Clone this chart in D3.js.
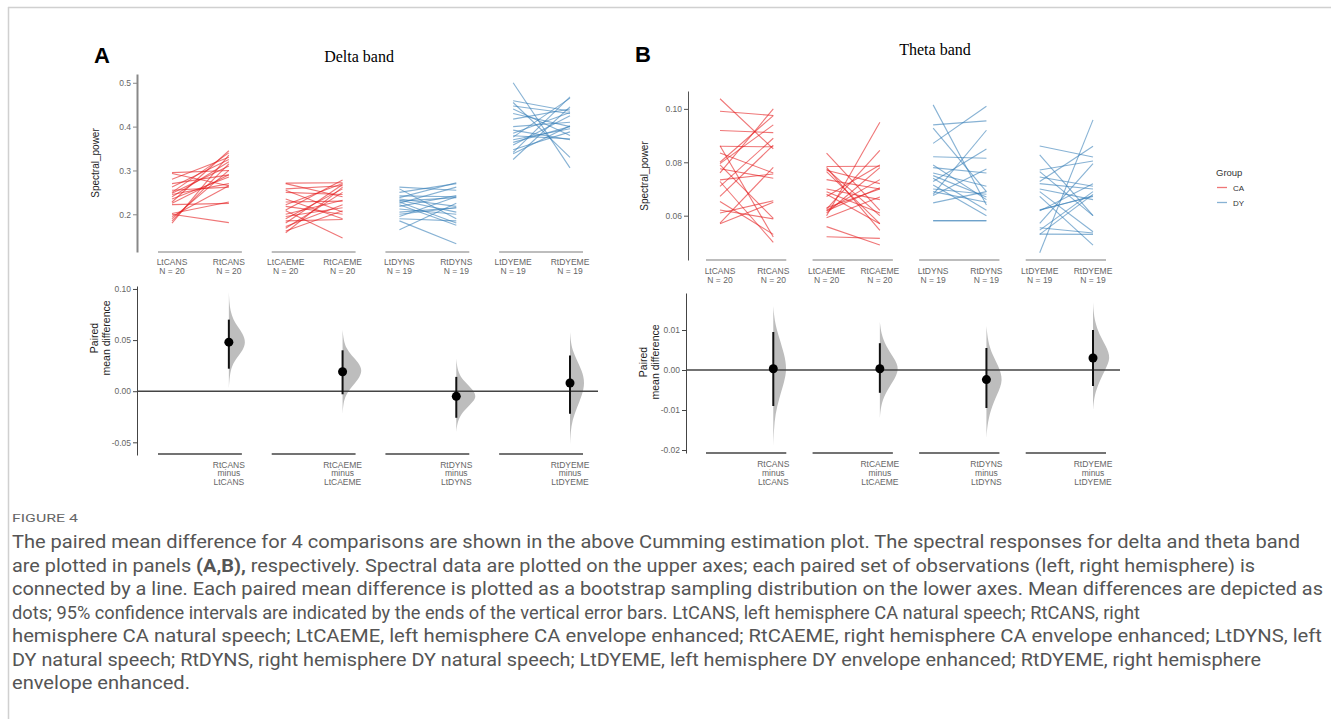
<!DOCTYPE html>
<html>
<head>
<meta charset="utf-8">
<script src="https://cdn.jsdelivr.net/npm/d3@7"></script>
<style>
  body { margin: 0; background: #fff; }
  svg { display: block; }
</style>
</head>
<body>
<svg id="fig" width="1331" height="719"></svg>
<script>
// categories and groups (same in both bands)
const categories = ['LtCANS', 'RtCANS', 'LtCAEME', 'RtCAEME', 'LtDYNS', 'RtDYNS', 'LtDYEME', 'RtDYEME'];
const pairGroups = ['CA', 'CA', 'DY', 'DY'];
const sampleSizes = [20, 20, 19, 19];

// delta band, spectral power per subject (left, right hemisphere)
const deltaLtCANS = [0.295, 0.293, 0.280, 0.270, 0.262, 0.255, 0.250, 0.248, 0.245, 0.240, 0.235, 0.228, 0.225, 0.222, 0.202, 0.200, 0.195, 0.190, 0.185, 0.180];
const deltaRtCANS = [0.300, 0.265, 0.330, 0.290, 0.325, 0.262, 0.340, 0.310, 0.270, 0.320, 0.285, 0.345, 0.290, 0.225, 0.228, 0.181, 0.265, 0.300, 0.315, 0.335];
const deltaLtCAEME = [0.271, 0.270, 0.258, 0.255, 0.250, 0.235, 0.228, 0.222, 0.218, 0.210, 0.208, 0.200, 0.195, 0.190, 0.185, 0.180, 0.172, 0.168, 0.162, 0.158];
const deltaRtCAEME = [0.272, 0.240, 0.265, 0.205, 0.245, 0.190, 0.230, 0.270, 0.200, 0.278, 0.146, 0.232, 0.215, 0.258, 0.188, 0.268, 0.222, 0.250, 0.208, 0.262];
const deltaLtDYNS = [0.262, 0.258, 0.250, 0.242, 0.238, 0.235, 0.232, 0.230, 0.228, 0.225, 0.222, 0.218, 0.212, 0.205, 0.200, 0.195, 0.190, 0.185, 0.165];
const deltaRtDYNS = [0.255, 0.190, 0.270, 0.240, 0.272, 0.218, 0.205, 0.238, 0.180, 0.262, 0.175, 0.243, 0.200, 0.215, 0.215, 0.240, 0.185, 0.133, 0.225];
const deltaLtDYEME = [0.500, 0.459, 0.455, 0.447, 0.440, 0.430, 0.417, 0.400, 0.392, 0.385, 0.379, 0.376, 0.370, 0.364, 0.358, 0.347, 0.341, 0.338, 0.325];
const deltaRtDYEME = [0.306, 0.435, 0.330, 0.430, 0.380, 0.400, 0.440, 0.410, 0.370, 0.432, 0.372, 0.465, 0.395, 0.400, 0.425, 0.388, 0.468, 0.402, 0.445];

// theta band
const thetaLtCANS = [0.1038, 0.0991, 0.0919, 0.0862, 0.0860, 0.0835, 0.0800, 0.0795, 0.0790, 0.0776, 0.0760, 0.0734, 0.0728, 0.0710, 0.0672, 0.0653, 0.0621, 0.0610, 0.0572, 0.0570];
const thetaRtCANS = [0.0850, 0.0975, 0.0911, 0.0520, 0.0858, 0.0760, 0.0975, 0.0940, 0.0590, 0.0740, 0.1000, 0.0756, 0.0500, 0.0890, 0.0864, 0.0530, 0.0588, 0.0656, 0.0781, 0.0650];
const thetaLtCAEME = [0.0834, 0.0784, 0.0781, 0.0775, 0.0770, 0.0765, 0.0735, 0.0700, 0.0690, 0.0680, 0.0672, 0.0630, 0.0625, 0.0620, 0.0618, 0.0610, 0.0600, 0.0592, 0.0559, 0.0521];
const thetaRtCAEME = [0.0620, 0.0785, 0.0545, 0.0600, 0.0720, 0.0570, 0.0700, 0.0660, 0.0610, 0.0570, 0.0790, 0.0700, 0.0845, 0.0735, 0.0705, 0.0780, 0.0950, 0.0670, 0.0490, 0.0515];
const thetaLtDYNS = [0.1015, 0.0940, 0.0928, 0.0871, 0.0821, 0.0790, 0.0780, 0.0760, 0.0750, 0.0740, 0.0728, 0.0715, 0.0700, 0.0680, 0.0676, 0.0648, 0.0582, 0.0580, 0.0690];
const thetaRtDYNS = [0.0640, 0.0955, 0.0690, 0.1010, 0.0815, 0.0660, 0.0760, 0.0710, 0.0670, 0.0620, 0.0850, 0.0600, 0.0680, 0.0920, 0.0775, 0.0690, 0.0582, 0.0580, 0.0650];
const thetaLtDYEME = [0.0861, 0.0828, 0.0771, 0.0765, 0.0745, 0.0728, 0.0720, 0.0690, 0.0672, 0.0622, 0.0620, 0.0618, 0.0571, 0.0555, 0.0546, 0.0531, 0.0530, 0.0461, 0.0700];
const thetaRtDYEME = [0.0820, 0.0600, 0.0805, 0.0600, 0.0710, 0.0860, 0.0700, 0.0540, 0.0490, 0.0672, 0.0675, 0.0720, 0.0795, 0.0535, 0.0690, 0.0530, 0.0680, 0.0959, 0.0660];

// paired mean differences with 95% CI
const deltaDiff = [0.048, 0.019, -0.005, 0.008];
const deltaCiLow = [0.022, -0.003, -0.026, -0.022];
const deltaCiHigh = [0.070, 0.040, 0.014, 0.035];
const thetaDiff = [0.0003, 0.0003, -0.0024, 0.003];
const thetaCiLow = [-0.009, -0.0057, -0.0095, -0.004];
const thetaCiHigh = [0.0095, 0.0067, 0.0055, 0.010];

// bootstrap distributions: [difference, relative density]
const deltaBoot = [
  [[0.003, 0], [0.015, 0.04], [0.025, 0.15], [0.033, 0.4], [0.040, 0.7], [0.048, 0.85], [0.056, 0.7], [0.063, 0.45], [0.070, 0.22], [0.078, 0.08], [0.088, 0.02], [0.097, 0]],
  [[-0.022, 0], [-0.012, 0.04], [-0.004, 0.15], [0.004, 0.45], [0.012, 0.8], [0.020, 1], [0.028, 0.8], [0.035, 0.45], [0.042, 0.18], [0.050, 0.05], [0.060, 0]],
  [[-0.040, 0], [-0.032, 0.04], [-0.024, 0.18], [-0.017, 0.5], [-0.010, 0.85], [-0.005, 1], [0.001, 0.85], [0.008, 0.5], [0.014, 0.2], [0.022, 0.05], [0.032, 0]],
  [[-0.052, 0], [-0.040, 0.03], [-0.028, 0.12], [-0.016, 0.35], [-0.004, 0.6], [0.008, 0.75], [0.020, 0.6], [0.030, 0.35], [0.040, 0.12], [0.050, 0.03], [0.058, 0]]
];
const thetaBoot = [
  [[-0.019, 0], [-0.015, 0.03], [-0.011, 0.1], [-0.007, 0.3], [-0.003, 0.55], [0.0003, 0.68], [0.004, 0.55], [0.008, 0.3], [0.011, 0.12], [0.014, 0.03], [0.016, 0]],
  [[-0.012, 0], [-0.009, 0.05], [-0.006, 0.25], [-0.003, 0.65], [0.0003, 1], [0.003, 0.7], [0.006, 0.3], [0.009, 0.07], [0.012, 0]],
  [[-0.017, 0], [-0.014, 0.04], [-0.010, 0.2], [-0.006, 0.55], [-0.0025, 0.85], [0.001, 0.6], [0.004, 0.28], [0.007, 0.08], [0.011, 0]],
  [[-0.010, 0], [-0.007, 0.05], [-0.004, 0.22], [0, 0.6], [0.003, 0.9], [0.006, 0.65], [0.009, 0.3], [0.012, 0.1], [0.015, 0.02], [0.017, 0]]
];

const deltaTopTicks = [0.2, 0.3, 0.4, 0.5];
const deltaBotTicks = [-0.05, 0, 0.05, 0.10];
const thetaTopTicks = [0.06, 0.08, 0.10];
const thetaBotTicks = [-0.02, -0.01, 0, 0.01];

const captionLines = [
  [['The paired mean difference for 4 comparisons are shown in the above Cumming estimation plot. The spectral responses for delta and theta band', false]],
  [['are plotted in panels ', false], ['(A,B),', true], [' respectively. Spectral data are plotted on the upper axes; each paired set of observations (left, right hemisphere) is', false]],
  [['connected by a line. Each paired mean difference is plotted as a bootstrap sampling distribution on the lower axes. Mean differences are depicted as', false]],
  [['dots; 95% confidence intervals are indicated by the ends of the vertical error bars. LtCANS, left hemisphere CA natural speech; RtCANS, right', false]],
  [['hemisphere CA natural speech; LtCAEME, left hemisphere CA envelope enhanced; RtCAEME, right hemisphere CA envelope enhanced; LtDYNS, left', false]],
  [['DY natural speech; RtDYNS, right hemisphere DY natural speech; LtDYEME, left hemisphere DY envelope enhanced; RtDYEME, right hemisphere', false]],
  [['envelope enhanced.', false]]
];

const colors = { CA: '#e41a1c', DY: '#377eb8' };
const sans = 'Arial, "Liberation Sans", Helvetica, sans-serif';

const svg = d3.select('#fig');

// frame of the figure box
svg.append('line').attr('x1', 8).attr('x2', 1331).attr('y1', 7.5).attr('y2', 7.5).attr('stroke', '#d0d0d0').attr('stroke-width', 1.5);
svg.append('line').attr('x1', 8.5).attr('x2', 8.5).attr('y1', 7).attr('y2', 719).attr('stroke', '#d0d0d0').attr('stroke-width', 1.5);

function styleAxis(g, color, width) {
  g.select('.domain').attr('stroke', color).attr('stroke-width', width);
  g.selectAll('.tick line').attr('stroke', color);
  g.selectAll('.tick text').attr('fill', '#666').attr('font-size', 8.5).attr('font-family', sans);
}

function drawPanel(p) {
  const x = d3.scalePoint().domain(categories).range(p.xRange);
  const yTop = d3.scaleLinear().domain(p.topDomain).range(p.topRange);
  const yBot = d3.scaleLinear().domain(p.botDomain).range(p.botRange);
  const w = d3.scaleLinear().domain([0, 1]).range([0, 20]);

  svg.append('text')
    .attr('x', p.letterX).attr('y', p.letterY)
    .attr('font-family', sans).attr('font-weight', 'bold').attr('font-size', 22)
    .text(p.letter);
  svg.append('text')
    .attr('x', p.titleX).attr('y', p.titleY)
    .attr('text-anchor', 'middle')
    .attr('font-family', '"Liberation Serif", "Times New Roman", serif').attr('font-size', 16)
    .text(p.title);

  // upper axes: slopegraph
  const gTop = svg.append('g')
    .attr('transform', `translate(${p.axisX},0)`)
    .call(d3.axisLeft(yTop).tickValues(p.topTicks).tickSize(4).tickSizeOuter(0).tickPadding(2).tickFormat(d => d.toFixed(p.topDigits)));
  styleAxis(gTop, p.topAxisColor, p.topAxisWidth);

  svg.append('text')
    .attr('transform', `translate(${p.topTitleX},${p.topTitleY}) rotate(-90)`)
    .attr('text-anchor', 'middle').attr('font-family', sans).attr('font-size', 10).attr('fill', '#222')
    .text('Spectral_power');

  p.left.forEach((lt, i) => {
    const c0 = categories[2 * i], c1 = categories[2 * i + 1];
    svg.append('line')
      .attr('x1', x(c0) - 14).attr('x2', x(c1) + 13)
      .attr('y1', p.topRange[0]).attr('y2', p.topRange[0])
      .attr('stroke', '#bdbdbd').attr('stroke-width', 2);

    svg.append('g')
      .selectAll('line')
      .data(d3.zip(lt, p.right[i]))
      .join('line')
      .attr('x1', x(c0)).attr('x2', x(c1))
      .attr('y1', d => yTop(d[0])).attr('y2', d => yTop(d[1]))
      .attr('stroke', colors[pairGroups[i]])
      .attr('stroke-opacity', 0.6)
      .attr('stroke-width', 1.1);

    [c0, c1].forEach(c => {
      const t = svg.append('text')
        .attr('text-anchor', 'middle').attr('font-family', sans).attr('font-size', 8.5).attr('fill', '#666');
      t.append('tspan').attr('x', x(c)).attr('y', p.catLabelY).text(c);
      t.append('tspan').attr('x', x(c)).attr('y', p.catLabelY + p.labelGap).text(`N = ${sampleSizes[i]}`);
    });
  });

  // lower axes: paired mean difference
  const gBot = svg.append('g')
    .attr('transform', `translate(${p.axisX - p.botShift},0)`)
    .call(d3.axisLeft(yBot).tickValues(p.botTicks).tickSize(4).tickSizeOuter(0).tickPadding(2).tickFormat(d => d.toFixed(2)));
  styleAxis(gBot, '#444', 1);

  const bt = svg.append('text')
    .attr('transform', `translate(${p.botTitleX},${p.botTitleY}) rotate(-90)`)
    .attr('text-anchor', 'middle').attr('font-family', sans).attr('font-size', 10.5).attr('fill', '#222');
  bt.append('tspan').attr('x', 0).attr('dy', '-0.55em').text('Paired');
  bt.append('tspan').attr('x', 0).attr('dy', '1.1em').text('mean difference');

  p.left.forEach((lt, i) => {
    const c0 = categories[2 * i], c1 = categories[2 * i + 1];
    const cx = x(c1);
    svg.append('line')
      .attr('x1', x(c0) - 14).attr('x2', x(c1) + 13)
      .attr('y1', p.botBaseY).attr('y2', p.botBaseY)
      .attr('stroke', '#444').attr('stroke-width', 1.5);

    svg.append('path')
      .datum(p.boot[i])
      .attr('fill', '#bdbdbd')
      .attr('d', d3.area().curve(d3.curveBasis)
        .y(d => yBot(d[0]))
        .x0(cx)
        .x1(d => cx + w(d[1])));

    const t = svg.append('text')
      .attr('text-anchor', 'middle').attr('font-family', sans).attr('font-size', 8.5).attr('fill', '#666');
    [c1, 'minus', c0].forEach((s, k) => {
      t.append('tspan').attr('x', cx).attr('y', p.diffLabelY + k * 8.8).text(s);
    });
  });

  svg.append('line')
    .attr('x1', p.axisX - p.botShift).attr('x2', p.zeroEnd)
    .attr('y1', yBot(0)).attr('y2', yBot(0))
    .attr('stroke', '#444').attr('stroke-width', 1.5);

  svg.append('g')
    .selectAll('line')
    .data(p.diff)
    .join('line')
    .attr('x1', (d, i) => x(categories[2 * i + 1])).attr('x2', (d, i) => x(categories[2 * i + 1]))
    .attr('y1', (d, i) => yBot(p.ciLow[i])).attr('y2', (d, i) => yBot(p.ciHigh[i]))
    .attr('stroke', '#111').attr('stroke-width', 2);

  svg.append('g')
    .selectAll('circle')
    .data(p.diff)
    .join('circle')
    .attr('cx', (d, i) => x(categories[2 * i + 1]))
    .attr('cy', d => yBot(d))
    .attr('r', 4.5)
    .attr('fill', '#000');
}

drawPanel({
  letter: 'A', letterX: 94, letterY: 63,
  title: 'Delta band', titleX: 359, titleY: 62,
  xRange: [172, 570], axisX: 137, botShift: 0,
  topDomain: [0.114, 0.520], topRange: [252, 74], topTicks: deltaTopTicks, topDigits: 1,
  topAxisColor: '#888', topAxisWidth: 2,
  topTitleX: 99, topTitleY: 163,
  catLabelY: 265, labelGap: 9,
  botDomain: [-0.0624, 0.1029], botRange: [455, 286], botTicks: deltaBotTicks,
  botBaseY: 454, botTitleX: 104, botTitleY: 338, zeroEnd: 598, diffLabelY: 467.5,
  left: [deltaLtCANS, deltaLtCAEME, deltaLtDYNS, deltaLtDYEME],
  right: [deltaRtCANS, deltaRtCAEME, deltaRtDYNS, deltaRtDYEME],
  diff: deltaDiff, ciLow: deltaCiLow, ciHigh: deltaCiHigh, boot: deltaBoot
});

drawPanel({
  letter: 'B', letterX: 635, letterY: 62,
  title: 'Theta band', titleX: 935, titleY: 55,
  xRange: [720, 1093], axisX: 688, botShift: 2,
  topDomain: [0.0434, 0.1067], topRange: [260, 91], topTicks: thetaTopTicks, topDigits: 2,
  topAxisColor: '#555', topAxisWidth: 1,
  topTitleX: 648, topTitleY: 176,
  catLabelY: 274, labelGap: 8.5,
  botDomain: [-0.02075, 0.01925], botRange: [453, 293], botTicks: thetaBotTicks,
  botBaseY: 453, botTitleX: 653, botTitleY: 362, zeroEnd: 1120, diffLabelY: 467,
  left: [thetaLtCANS, thetaLtCAEME, thetaLtDYNS, thetaLtDYEME],
  right: [thetaRtCANS, thetaRtCAEME, thetaRtDYNS, thetaRtDYEME],
  diff: thetaDiff, ciLow: thetaCiLow, ciHigh: thetaCiHigh, boot: thetaBoot
});

// legend
const legend = svg.append('g').attr('font-family', sans).attr('fill', '#333');
legend.append('text').attr('x', 1216).attr('y', 176).attr('font-size', 9.5).text('Group');
['CA', 'DY'].forEach((g, i) => {
  legend.append('line')
    .attr('x1', 1217).attr('x2', 1227)
    .attr('y1', 187.5 + i * 15).attr('y2', 187.5 + i * 15)
    .attr('stroke', colors[g]).attr('stroke-opacity', 0.6).attr('stroke-width', 1.3);
  legend.append('text').attr('x', 1233).attr('y', 190.5 + i * 15).attr('font-size', 8).text(g);
});

// caption
const capFont = 'Roboto, "Liberation Sans Narrow", sans-serif';
svg.append('text')
  .attr('x', 12).attr('y', 522)
  .attr('font-family', capFont)
  .attr('font-size', 11.5).attr('fill', '#666')
  .attr('textLength', 66).attr('lengthAdjust', 'spacingAndGlyphs')
  .text('FIGURE 4');

const lineEnds = [1300, 1255, 1323, 1140, 1322, 1261, 190];
captionLines.forEach((segs, i) => {
  const t = svg.append('text')
    .attr('x', 12).attr('y', 548 + i * 23.5)
    .attr('font-family', capFont)
    .attr('font-size', 18).attr('fill', '#555')
    .attr('textLength', lineEnds[i] - 12).attr('lengthAdjust', 'spacingAndGlyphs');
  segs.forEach(([s, b]) => {
    t.append('tspan').attr('font-weight', b ? 'bold' : 'normal').text(s);
  });
});
</script>
</body>
</html>
